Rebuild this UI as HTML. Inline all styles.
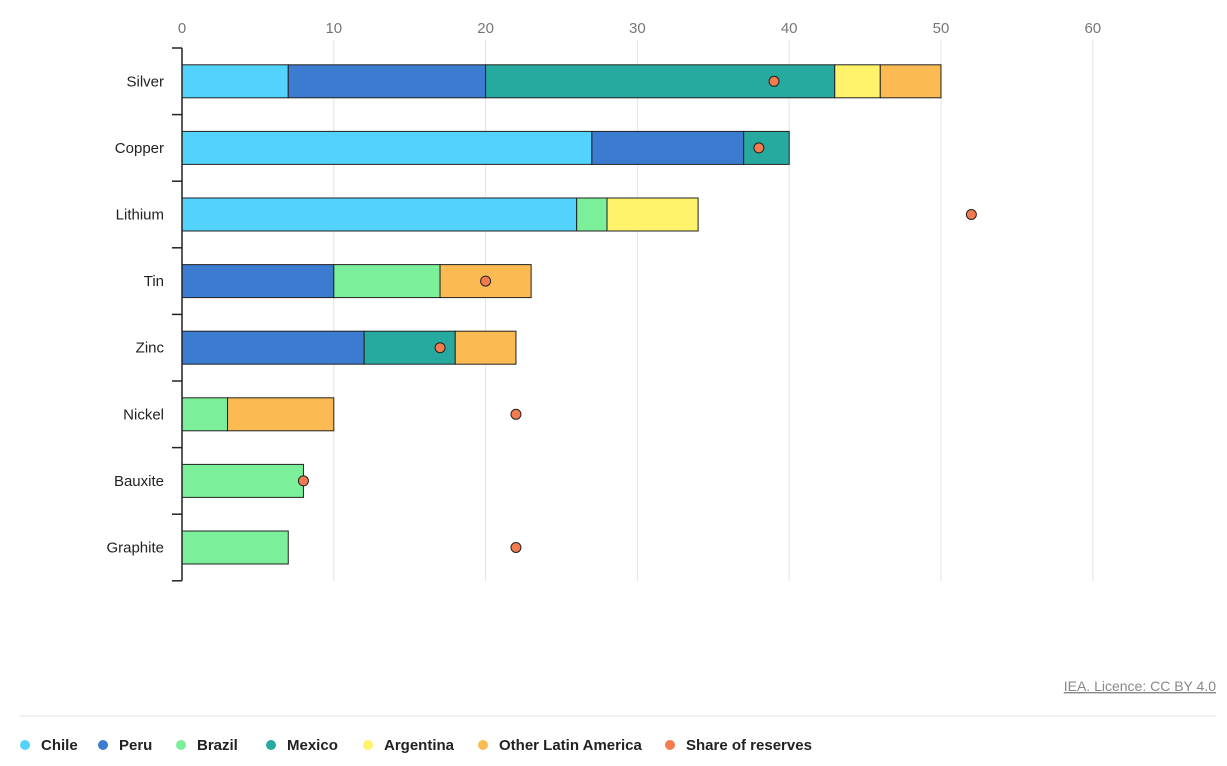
<!DOCTYPE html>
<html><head><meta charset="utf-8"><style>
body{margin:0;background:#fff;font-family:"Liberation Sans",sans-serif;}
svg text{font-family:"Liberation Sans",sans-serif;}
</style></head><body>
<svg id="chart" width="1227" height="761" xmlns="http://www.w3.org/2000/svg"></svg>
<script>
const categories=["Silver","Copper","Lithium","Tin","Zinc","Nickel","Bauxite","Graphite"];
const seriesNames=["Chile","Peru","Brazil","Mexico","Argentina","Other Latin America"];
const chile=[7,27,26,0,0,0,0,0];
const peru=[13,10,0,10,12,0,0,0];
const brazil=[0,0,2,7,0,3,8,7];
const mexico=[23,3,0,0,6,0,0,0];
const argentina=[3,0,6,0,0,0,0,0];
const otherLatam=[4,0,0,6,4,7,0,0];
const reserves=[39,38,52,20,17,22,8,22];
const xTicks=[0,10,20,30,40,50,60];
const colors=["#52d3fb","#3b7bd0","#7cef9a","#26a99f","#fff36b","#fbbb52"];
const series=[chile,peru,brazil,mexico,argentina,otherLatam];
const svg=document.getElementById('chart');
const NS="http://www.w3.org/2000/svg";
function el(t,a,p){const e=document.createElementNS(NS,t);for(const k in a)e.setAttribute(k,a[k]);(p||svg).appendChild(e);return e;}
const x=v=>182+v*15.18;
const topY=48,rowH=66.6;
const yc=i=>topY+rowH*(i+0.5);
xTicks.forEach(t=>{
 const g=el('line',{x1:x(t),x2:x(t),y1:40,y2:581,stroke:'#e3e3e3','stroke-width':1});
 
 
 const tx=el('text',{x:x(t),y:33,'text-anchor':'middle','font-size':15,fill:'#777'});
 tx.textContent=t;
 
 
});
categories.forEach((c,i)=>{
 const tx=el('text',{x:164,y:yc(i)+5,'text-anchor':'end','font-size':15,fill:'#222'});
 tx.textContent=c;
 
 
 let acc=0;
 series.forEach((s,j)=>{
  if(s[i]>0){
   const r=el('rect',{x:x(acc),y:yc(i)-16.5,width:x(acc+s[i])-x(acc),height:33,fill:colors[j],stroke:'#222','stroke-width':1});
   
   
   acc+=s[i];
  }
 });
});
for(let i=0;i<=categories.length;i++){
 const t=el('line',{x1:172,x2:182,y1:topY+rowH*i,y2:topY+rowH*i,stroke:'#222','stroke-width':1.5});
 
 
}
const ax=el('line',{x1:182,x2:182,y1:topY,y2:topY+rowH*categories.length,stroke:'#222','stroke-width':1.5});


categories.forEach((c,i)=>{
 const d=el('circle',{cx:x(reserves[i]),cy:yc(i),r:5,fill:'#f47b4f',stroke:'#222','stroke-width':1});
 
 
});
const cr=el('text',{x:1216,y:691,'text-anchor':'end','font-size':14,fill:'#888','text-decoration':'underline'});
cr.textContent="IEA. Licence: CC BY 4.0";


const sep=el('line',{x1:20,x2:1216,y1:716,y2:716,stroke:'#e3e3e3'});


const legNames=seriesNames.concat(["Share of reserves"]);
const legColors=colors.concat(["#f47b4f"]);
const legX=[25,103,181,271,368,483,670];
legNames.forEach((n,i)=>{
 const g=el('g',{});
 
 
 el('circle',{cx:legX[i],cy:745,r:5,fill:legColors[i]},g);
 const t=el('text',{x:legX[i]+16,y:750,'font-size':15,'font-weight':'bold',fill:'#222'},g);
 t.textContent=n;
});
</script>
</body></html>
